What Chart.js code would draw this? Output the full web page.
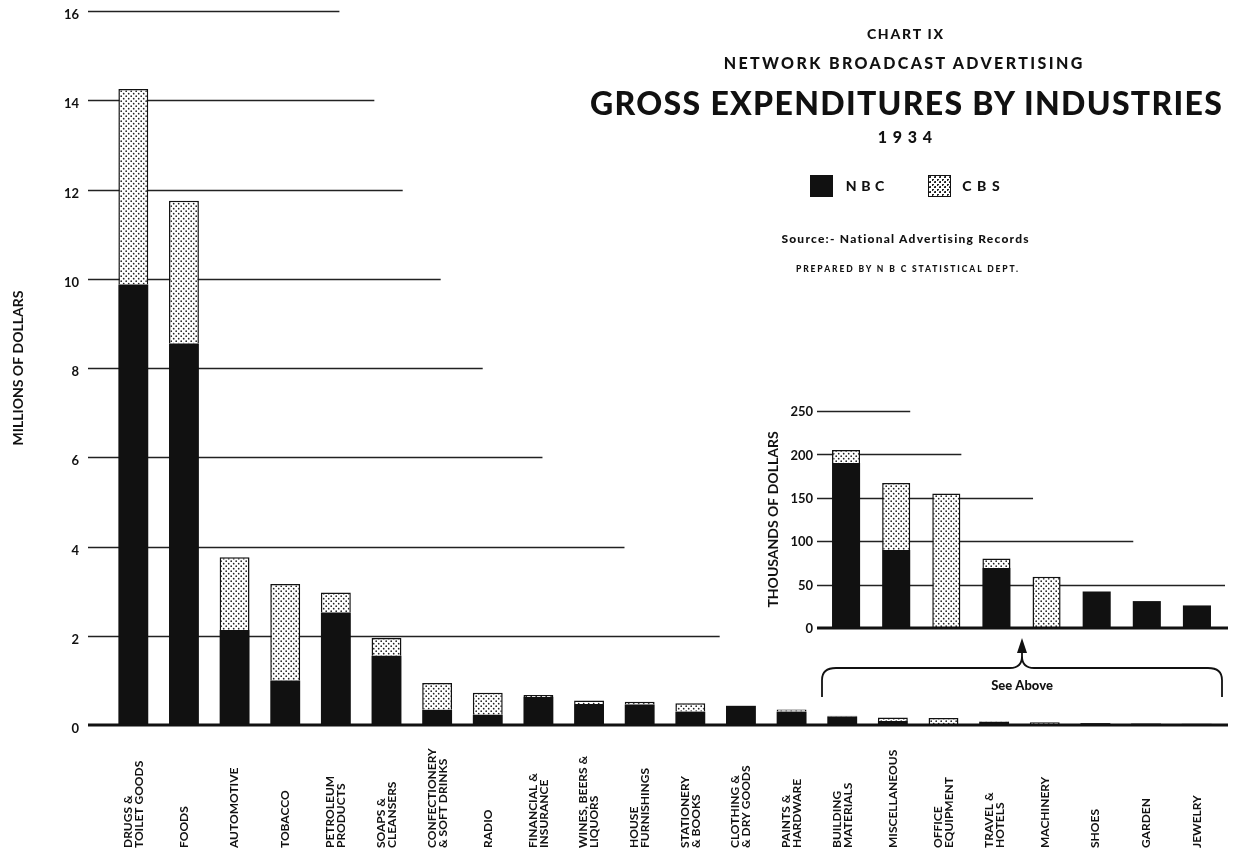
<!DOCTYPE html>
<html>
<head>
<meta charset="utf-8">
<title>Network Broadcast Advertising 1934</title>
<script src="https://cdn.jsdelivr.net/npm/chart.js@4.4.1/dist/chart.umd.min.js"></script>
<style>
  body { margin: 0; background: #fff; }
  #wrap { position: relative; width: 1238px; height: 852px; overflow: hidden;
          font-family: Lato, "DejaVu Sans", sans-serif; font-weight: 900; color: #111; }
  #main { position: absolute; left: 0; top: 0; }
  #inset { position: absolute; left: 740px; top: 380px; }
  .t { position: absolute; white-space: nowrap; line-height: 1; transform: translate(-50%, -50%); }
  .sw { position: absolute; width: 23px; height: 22px; transform: translateY(-50%); }
  .nbc { background: #111; }
  .cbs { border: 1.5px solid #111; box-sizing: border-box;
         background: radial-gradient(circle at 1.2px 1.2px, #222 0.9px, transparent 1.2px) 0 0/5px 5px,
                     radial-gradient(circle at 3.7px 3.7px, #222 0.9px, transparent 1.2px) 0 0/5px 5px, #fff; }
</style>
</head>
<body>
<div id="wrap">
  <canvas id="main" width="1238" height="852"></canvas>
  <canvas id="inset" width="498" height="330"></canvas>

  <div class="t" style="left:905px; top:34px; font-size:14px" data-w="78">CHART IX</div>
  <div class="t" style="left:903px; top:63px; font-size:16px" data-w="361">NETWORK BROADCAST ADVERTISING</div>
  <div class="t" style="left:906px; top:103px; font-size:32px" data-w="633">GROSS EXPENDITURES BY INDUSTRIES</div>
  <div class="t" style="left:905px; top:137px; font-size:16px" data-w="60">1934</div>

  <div class="sw nbc" style="left:810px; top:186px"></div>
  <div class="t" style="left:865px; top:186px; font-size:14px" data-w="43">NBC</div>
  <div class="sw cbs" style="left:928px; top:186px"></div>
  <div class="t" style="left:981px; top:186px; font-size:14px" data-w="43">CBS</div>

  <div class="t" style="left:905px; top:239px; font-size:12px" data-w="249">Source:- National Advertising Records</div>
  <div class="t" style="left:907px; top:269px; font-size:8.5px" data-w="224">PREPARED BY N B C STATISTICAL DEPT.</div>
</div>

<script>
// industries, in the order of the chart
const categories = [
  ['DRUGS &', 'TOILET GOODS'], ['FOODS'], ['AUTOMOTIVE'], ['TOBACCO'],
  ['PETROLEUM', 'PRODUCTS'], ['SOAPS &', 'CLEANSERS'], ['CONFECTIONERY', '& SOFT DRINKS'],
  ['RADIO'], ['FINANCIAL &', 'INSURANCE'], ['WINES, BEERS &', 'LIQUORS'],
  ['HOUSE', 'FURNISHINGS'], ['STATIONERY', '& BOOKS'], ['CLOTHING &', '& DRY GOODS'],
  ['PAINTS &', 'HARDWARE'], ['BUILDING', 'MATERIALS'], ['MISCELLANEOUS'],
  ['OFFICE', 'EQUIPMENT'], ['TRAVEL &', 'HOTELS'], ['MACHINERY'], ['SHOES'],
  ['GARDEN'], ['JEWELRY']
];

// millions of dollars
const nbcMillions = [9.87, 8.55, 2.13, 1.0, 2.52, 1.55, 0.34, 0.23, 0.63, 0.47, 0.46,
                     0.30, 0.43, 0.30, 0.19, 0.09, 0, 0.07, 0, 0.042, 0.032, 0.026];
const cbsMillions = [4.38, 3.20, 1.63, 2.16, 0.45, 0.40, 0.60, 0.49, 0.04, 0.08, 0.06,
                     0.19, 0, 0.05, 0.015, 0.077, 0.155, 0.01, 0.059, 0, 0, 0];
const millionTicks = [0, 2, 4, 6, 8, 10, 12, 14, 16];

// inset: the smallest eight, thousands of dollars
const insetCategories = categories.slice(14);
const nbcThousands = [190, 90, 0, 69, 0, 42, 31, 26];
const cbsThousands = [15, 77, 155, 11, 59, 0, 0, 0];
const thousandTicks = [0, 50, 100, 150, 200, 250];

const FONT = 'Lato, "DejaVu Sans", sans-serif';

function fitTitles() {
  document.querySelectorAll('.t[data-w]').forEach((el) => {
    const target = +el.dataset.w;
    const w = el.getBoundingClientRect().width;
    const ls = ((target - w) / el.textContent.length).toFixed(2) + 'px';
    el.style.letterSpacing = ls;
    el.style.paddingLeft = ls;
  });
}

function dotPattern(ctx) {
  const c = document.createElement('canvas');
  c.width = 5; c.height = 5;
  const g = c.getContext('2d');
  g.fillStyle = '#fff';
  g.fillRect(0, 0, 5, 5);
  g.fillStyle = '#222';
  g.beginPath(); g.arc(1.2, 1.2, 0.85, 0, Math.PI * 2); g.fill();
  g.beginPath(); g.arc(3.7, 3.7, 0.85, 0, Math.PI * 2); g.fill();
  return ctx.createPattern(c, 'repeat');
}

// grid lines that stop short, plus the heavy base line
const stairGrid = {
  id: 'stairGrid',
  beforeDatasetsDraw(chart, args, opts) {
    const { ctx, chartArea, scales: { x, y } } = chart;
    ctx.save();
    ctx.strokeStyle = '#222';
    ctx.lineWidth = 1.4;
    opts.ends.forEach(([v, end]) => {
      const py = Math.round(y.getPixelForValue(v)) + 0.5;
      ctx.beginPath();
      ctx.moveTo(chartArea.left - opts.lead, py);
      ctx.lineTo(x.getPixelForValue(end), py);
      ctx.stroke();
    });
    ctx.restore();
  },
  afterDatasetsDraw(chart, args, opts) {
    const { ctx, chartArea, scales: { y } } = chart;
    const py = y.getPixelForValue(0);
    ctx.save();
    ctx.strokeStyle = '#111';
    ctx.lineWidth = 3;
    ctx.beginPath();
    ctx.moveTo(chartArea.left - opts.lead, py);
    ctx.lineTo(chartArea.right + opts.tail, py);
    ctx.stroke();
    ctx.restore();
  }
};

const catLabels = {
  id: 'catLabels',
  afterDraw(chart, args, opts) {
    const { ctx, scales: { x } } = chart;
    ctx.save();
    ctx.fillStyle = '#111';
    ctx.font = 'bold 12px ' + FONT;
    ctx.textAlign = 'left';
    ctx.textBaseline = 'middle';
    chart.data.labels.forEach((lines, i) => {
      ctx.save();
      ctx.translate(x.getPixelForValue(i), opts.bottom);
      ctx.rotate(-Math.PI / 2);
      lines.forEach((t, k) => ctx.fillText(t, 0, (k - (lines.length - 1) / 2) * opts.lineHeight));
      ctx.restore();
    });
    ctx.restore();
  }
};

const seeAbove = {
  id: 'seeAbove',
  afterDraw(chart) {
    const { ctx, scales: { x } } = chart;
    const n = chart.data.labels.length;
    const half = (x.getPixelForValue(1) - x.getPixelForValue(0)) / 2;
    const L = x.getPixelForValue(0) - half + 1;
    const R = x.getPixelForValue(n - 1) + half;
    const M = (L + R) / 2;
    const yb = 317, yh = 288;
    ctx.save();
    ctx.strokeStyle = '#111';
    ctx.fillStyle = '#111';
    ctx.lineWidth = 1.8;
    ctx.beginPath();
    ctx.moveTo(L, yb);
    ctx.lineTo(L, yh + 12);
    ctx.quadraticCurveTo(L, yh, L + 14, yh);
    ctx.lineTo(M - 12, yh);
    ctx.quadraticCurveTo(M, yh, M, yh - 12);
    ctx.quadraticCurveTo(M, yh, M + 12, yh);
    ctx.lineTo(R - 14, yh);
    ctx.quadraticCurveTo(R, yh, R, yh + 12);
    ctx.lineTo(R, yb);
    ctx.moveTo(M, yh - 12);
    ctx.lineTo(M, 266);
    ctx.stroke();
    ctx.beginPath();
    ctx.moveTo(M, 258);
    ctx.lineTo(M - 5, 273);
    ctx.lineTo(M + 5, 273);
    ctx.closePath();
    ctx.fill();
    ctx.font = '900 13px ' + FONT;
    ctx.textAlign = 'center';
    ctx.textBaseline = 'middle';
    ctx.fillText('See Above', M, 306);
    ctx.restore();
  }
};

function barChart(canvas, cfg) {
  const ctx = canvas.getContext('2d');
  return new Chart(ctx, {
    type: 'bar',
    data: {
      labels: cfg.labels,
      datasets: [
        { label: 'NBC', data: cfg.nbc, backgroundColor: '#111', borderWidth: 0,
          categoryPercentage: 1, barPercentage: cfg.barPct },
        { label: 'CBS', data: cfg.cbs, backgroundColor: dotPattern(ctx), borderColor: '#111',
          borderWidth: 1.5, categoryPercentage: 1, barPercentage: cfg.barPct }
      ]
    },
    options: {
      responsive: false,
      animation: false,
      layout: { padding: cfg.padding },
      plugins: {
        legend: { display: false },
        tooltip: { enabled: false },
        stairGrid: { ends: cfg.gridEnds, lead: cfg.lead, tail: 6 },
        catLabels: { bottom: 848, lineHeight: 11 }
      },
      scales: {
        x: {
          stacked: true,
          grid: { display: false },
          border: { display: false },
          ticks: { display: false },
          afterFit: (s) => { s.height = cfg.xHeight; }
        },
        y: {
          stacked: true,
          min: 0,
          max: cfg.ticks[cfg.ticks.length - 1],
          afterBuildTicks: (s) => { s.ticks = cfg.ticks.map((v) => ({ value: v })); },
          afterFit: (s) => { s.width = cfg.yWidth; },
          // invisible tick marks keep the labels away from the plot
          grid: { display: true, drawOnChartArea: false, drawTicks: true,
                  tickLength: cfg.tickGap, tickColor: 'rgba(0,0,0,0)' },
          border: { display: false },
          ticks: { color: '#111', font: { family: FONT, size: 13, weight: 'bold' },
                   padding: 0, labelOffset: cfg.labelOffset },
          title: { display: true, text: cfg.title, color: '#111',
                   font: { family: FONT, size: 14, weight: 'bold' },
                   padding: { top: cfg.titlePad, bottom: 0 } }
        }
      }
    },
    plugins: cfg.plugins
  });
}

fitTitles();

barChart(document.getElementById('main'), {
  labels: categories,
  nbc: nbcMillions,
  cbs: cbsMillions,
  ticks: millionTicks,
  barPct: 0.59,
  padding: { top: 11, right: 16, left: 0, bottom: 0 },
  xHeight: 127,
  yWidth: 108,
  tickGap: 29,
  labelOffset: 4,
  titlePad: 10,
  lead: 20,
  title: 'MILLIONS OF DOLLARS',
  gridEnds: [[2, 11.58], [4, 9.7], [6, 8.08], [8, 6.9], [10, 6.07], [12, 5.32], [14, 4.76], [16, 4.07]],
  plugins: [stairGrid, catLabels]
});

barChart(document.getElementById('inset'), {
  labels: insetCategories,
  nbc: nbcThousands,
  cbs: cbsThousands,
  ticks: thousandTicks,
  barPct: 0.56,
  padding: { top: 31, right: 16, left: 0, bottom: 0 },
  xHeight: 82,
  yWidth: 81,
  tickGap: 8,
  labelOffset: 1,
  titlePad: 25,
  lead: 4,
  title: 'THOUSANDS OF DOLLARS',
  gridEnds: [[50, 7.56], [100, 5.73], [150, 3.73], [200, 2.3], [250, 1.28]],
  plugins: [stairGrid, seeAbove]
});
</script>
</body>
</html>
